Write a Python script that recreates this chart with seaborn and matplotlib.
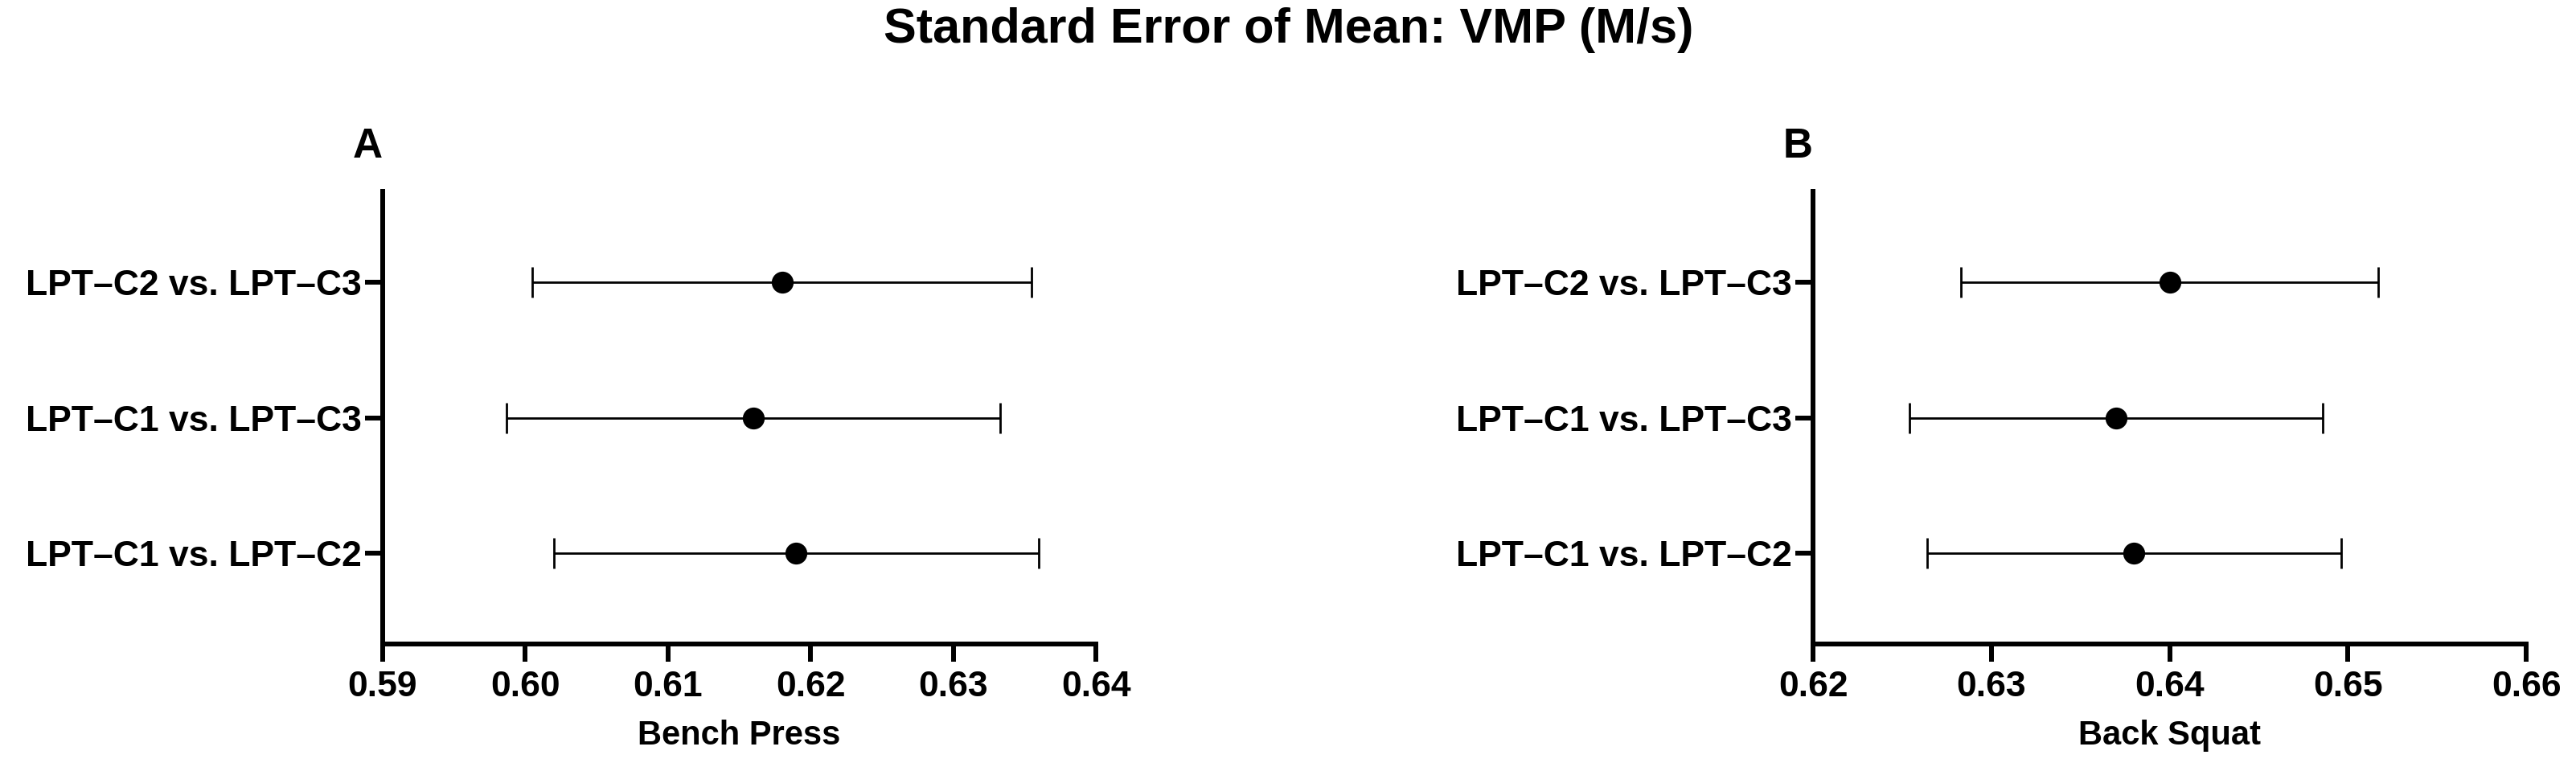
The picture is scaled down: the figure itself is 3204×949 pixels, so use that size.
import matplotlib
matplotlib.use("Agg")
import matplotlib.pyplot as plt
import seaborn as sns
import pandas as pd

# comparisons, bottom to top
comparisons = ["LPT\u2013C1 vs. LPT\u2013C2", "LPT\u2013C1 vs. LPT\u2013C3", "LPT\u2013C2 vs. LPT\u2013C3"]

# bench press mean + SEM
bench_mean = [0.619, 0.616, 0.618]
bench_sem = [0.017, 0.0173, 0.0175]

# back squat mean + SEM
squat_mean = [0.638, 0.637, 0.640]
squat_sem = [0.0116, 0.0116, 0.0117]

bench_ticks = [0.59, 0.60, 0.61, 0.62, 0.63, 0.64]
squat_ticks = [0.62, 0.63, 0.64, 0.65, 0.66]

sns.set_style("ticks")
plt.rcParams["font.family"] = ["Liberation Sans", "DejaVu Sans"]
plt.rcParams["font.weight"] = "bold"
for key in ["text.color", "axes.labelcolor", "axes.edgecolor", "xtick.color", "ytick.color"]:
    plt.rcParams[key] = "black"

fig = plt.figure(figsize=(32.05, 9.49), dpi=100)
ax_a = fig.add_axes([0.1485, 0.156, 0.2768, 0.593])
ax_b = fig.add_axes([0.7036, 0.156, 0.2768, 0.593])

panels = [
    (ax_a, bench_mean, bench_sem, bench_ticks, "Bench Press", "A"),
    (ax_b, squat_mean, squat_sem, squat_ticks, "Back Squat", "B"),
]

for ax, means, sems, ticks, xlab, letter in panels:
    df = pd.DataFrame({"comparison": comparisons, "mean": means, "sem": sems})
    ax.errorbar(df["mean"], df["comparison"], xerr=df["sem"], fmt="none",
                ecolor="black", elinewidth=2, capsize=14, capthick=2, zorder=2)
    sns.scatterplot(data=df, x="mean", y="comparison", ax=ax, color="black",
                    s=330, edgecolor="black", zorder=3, legend=False)
    ax.set_xlim(ticks[0], ticks[-1])
    ax.set_ylim(-0.67, 2.67)
    ax.set_xticks(ticks)
    ax.set_xticklabels([f"{t:.2f}" for t in ticks])
    ax.set_xlabel(xlab, fontsize=30, fontweight="bold", labelpad=14)
    ax.set_ylabel("")
    ax.tick_params(axis="both", labelsize=32, width=4.3, length=16)
    ax.tick_params(axis="x", pad=8)
    ax.tick_params(axis="y", pad=3)
    for lab in ax.get_xticklabels() + ax.get_yticklabels():
        lab.set_fontweight("bold")
    sns.despine(ax=ax)
    ax.spines["left"].set_linewidth(4.3)
    ax.spines["bottom"].set_linewidth(4.3)
    ax.text(-0.021, 1.099, letter, transform=ax.transAxes, fontsize=37,
            fontweight="bold", ha="center", va="center")

fig.suptitle("Standard Error of Mean: VMP (M/s)", fontsize=44, fontweight="bold", y=0.99)

fig.savefig("out.png", dpi=100)
